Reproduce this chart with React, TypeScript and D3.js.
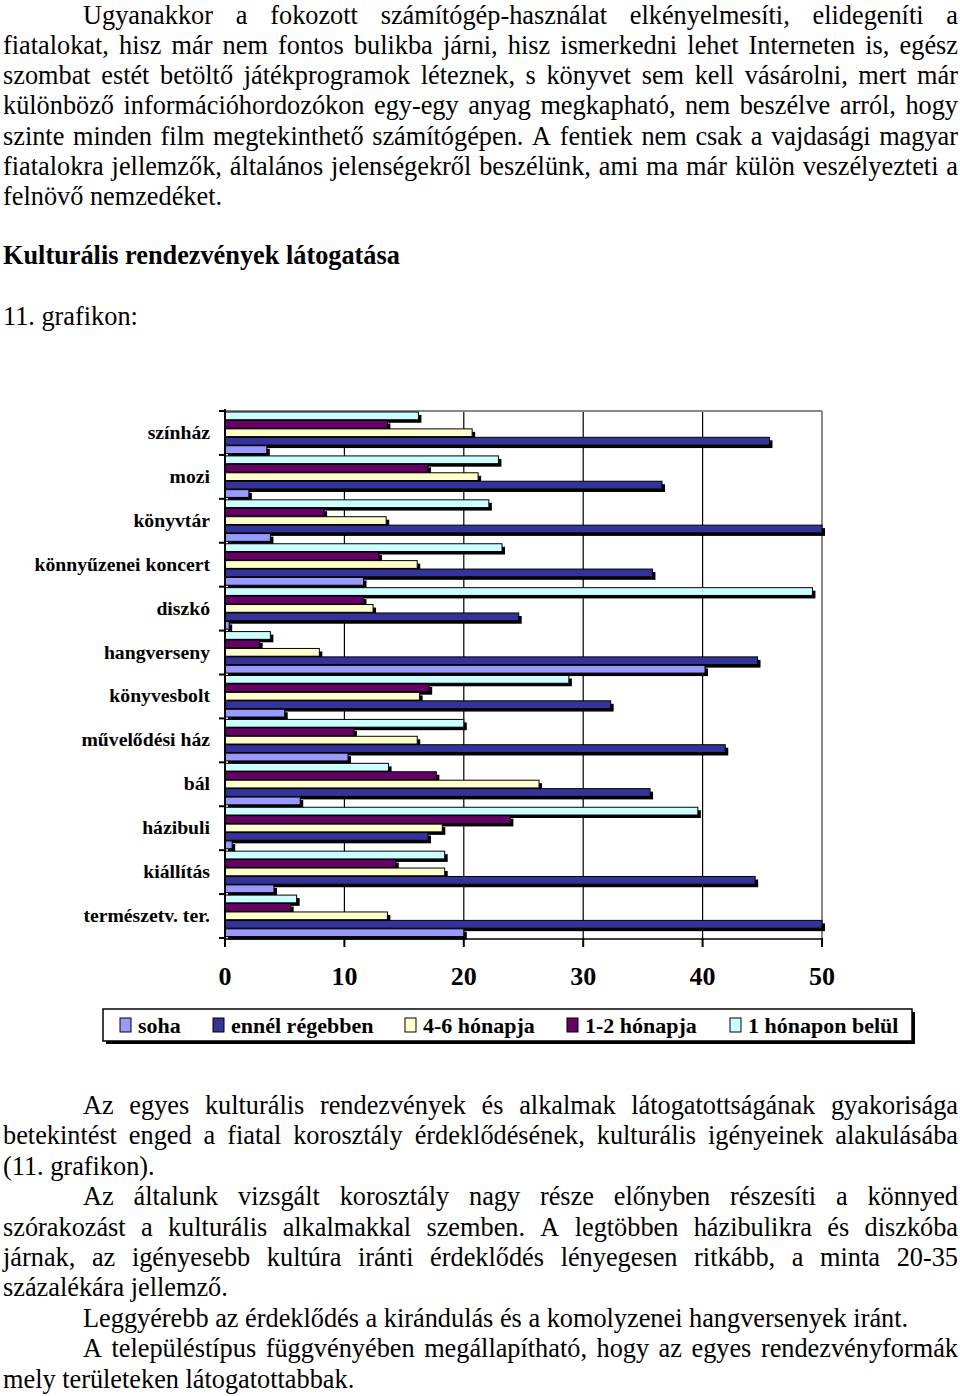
import React, { useEffect, useRef } from "react";
import * as d3 from "d3";

// ---- data ----
const categories = [
  "színház",
  "mozi",
  "könyvtár",
  "könnyűzenei koncert",
  "diszkó",
  "hangverseny",
  "könyvesbolt",
  "művelődési ház",
  "bál",
  "házibuli",
  "kiállítás",
  "természetv. ter.",
];
const seriesNames = ["soha", "ennél régebben", "4-6 hónapja", "1-2 hónapja", "1 hónapon belül"];
const soha = [3.5, 2.0, 3.8, 11.6, 0.35, 40.2, 5.0, 10.3, 6.3, 0.6, 4.1, 20.0];
const ennelRegebben = [45.6, 36.6, 50, 35.8, 24.6, 44.6, 32.3, 41.9, 35.6, 17.0, 44.4, 50];
const honap46 = [20.7, 21.2, 13.5, 16.1, 12.4, 7.9, 16.3, 16.1, 26.3, 18.2, 18.4, 13.6];
const honap12 = [13.6, 17.0, 8.3, 12.9, 11.6, 2.9, 17.1, 10.8, 17.7, 23.9, 14.3, 5.5];
const honaponBelul = [16.2, 22.9, 22.1, 23.2, 49.2, 3.8, 28.8, 20.0, 13.7, 39.6, 18.4, 6.0];
const seriesValues = [soha, ennelRegebben, honap46, honap12, honaponBelul];
const seriesColors = ["#9999FF", "#333399", "#FFFFCC", "#660066", "#CCFFFF"];
const xTicks = [0, 10, 20, 30, 40, 50];

// text content: [text, justify, indent]
const topLines: [string, boolean, boolean][] = [
  ["Ugyanakkor a fokozott számítógép-használat elkényelmesíti, elidegeníti a", true, true],
  ["fiatalokat, hisz már nem fontos bulikba járni, hisz ismerkedni lehet Interneten is, egész", true, false],
  ["szombat estét betöltő játékprogramok léteznek, s könyvet sem kell vásárolni, mert már", true, false],
  ["különböző információhordozókon egy-egy anyag megkapható, nem beszélve arról, hogy", true, false],
  ["szinte minden film megtekinthető számítógépen. A fentiek nem csak a vajdasági magyar", true, false],
  ["fiatalokra jellemzők, általános jelenségekről beszélünk, ami ma már külön veszélyezteti a", true, false],
  ["felnövő nemzedéket.", false, false],
];
const bottomLines: [string, boolean, boolean][] = [
  ["Az egyes kulturális rendezvények és alkalmak látogatottságának gyakorisága", true, true],
  ["betekintést enged a fiatal korosztály érdeklődésének, kulturális igényeinek alakulásába", true, false],
  ["(11. grafikon).", false, false],
  ["Az általunk vizsgált korosztály nagy része előnyben részesíti a könnyed", true, true],
  ["szórakozást a kulturális alkalmakkal szemben. A legtöbben házibulikra és diszkóba", true, false],
  ["járnak, az igényesebb kultúra iránti érdeklődés lényegesen ritkább, a minta 20-35", true, false],
  ["százalékára jellemző.", false, false],
  ["Leggyérebb az érdeklődés a kirándulás és a komolyzenei hangversenyek iránt.", false, true],
  ["A településtípus függvényében megállapítható, hogy az egyes rendezvényformák", true, true],
  ["mely területeken látogatottabbak.", false, false],
];
const titleText = "Kulturális rendezvények látogatása";
const captionText = "11. grafikon:";

const SERIF = "'Liberation Serif', 'Times New Roman', Times, serif";

export default function App() {
  const ref = useRef<SVGSVGElement | null>(null);

  useEffect(() => {
    const svg = d3.select(ref.current!);
    svg.selectAll("*").remove();

    const bodySize = 26.3;
    const leftX = 3;
    const rightX = 958;
    const indentX = 83;

    const drawLine = (g: any, text: string, justify: boolean, indent: boolean, y: number) => {
      const x0 = indent ? indentX : leftX;
      if (!justify) {
        g.append("text")
          .attr("x", x0)
          .attr("y", y)
          .attr("font-family", SERIF)
          .attr("font-size", bodySize)
          .attr("fill", "#000")
          .text(text);
        return;
      }
      const words = text.split(" ");
      const nodes = words.map((w) =>
        g.append("text")
          .attr("y", y)
          .attr("font-family", SERIF)
          .attr("font-size", bodySize)
          .attr("fill", "#000")
          .text(w)
      );
      const widths = nodes.map((n: any) => (n.node() as SVGTextElement).getComputedTextLength());
      const total = d3.sum(widths);
      const gap = (rightX - x0 - total) / (words.length - 1);
      let x = x0;
      nodes.forEach((n: any, i: number) => {
        n.attr("x", x);
        x += widths[i] + gap;
      });
    };

    const textG = svg.append("g");
    topLines.forEach((l, i) => drawLine(textG, l[0], l[1], l[2], 23.5 + i * 30.3));
    textG.append("text")
      .attr("x", leftX)
      .attr("y", 264)
      .attr("font-family", SERIF)
      .attr("font-size", bodySize)
      .attr("font-weight", "bold")
      .text(titleText);
    textG.append("text")
      .attr("x", leftX)
      .attr("y", 325)
      .attr("font-family", SERIF)
      .attr("font-size", bodySize)
      .text(captionText);
    bottomLines.forEach((l, i) => drawLine(textG, l[0], l[1], l[2], 1114 + i * 30.4));

    // ---- chart ----
    const x = d3.scaleLinear().domain([0, 50]).range([225, 822]);
    const y = d3.scaleBand<string>().domain(categories).range([411, 938]).paddingInner(0);
    const order = [4, 3, 2, 1, 0]; // top to bottom within group
    const inner = d3
      .scaleBand<number>()
      .domain(order)
      .range([1, 42.5])
      .paddingInner(0.08);

    const chart = svg.append("g");
    // gridlines
    chart.selectAll(".grid")
      .data(xTicks.filter((t) => t > 0 && t < 50))
      .enter()
      .append("line")
      .attr("x1", (d) => x(d))
      .attr("x2", (d) => x(d))
      .attr("y1", y.range()[0])
      .attr("y2", y.range()[1])
      .attr("stroke", "#000")
      .attr("stroke-width", 1.2);
    // top + right border
    chart.append("line")
      .attr("x1", x(0)).attr("x2", x(50))
      .attr("y1", 411).attr("y2", 411)
      .attr("stroke", "#888").attr("stroke-width", 2);
    chart.append("line")
      .attr("x1", x(50)).attr("x2", x(50))
      .attr("y1", 411).attr("y2", 938)
      .attr("stroke", "#888").attr("stroke-width", 2);

    const bh = inner.bandwidth();
    categories.forEach((c, ci) => {
      order.forEach((si) => {
        const v = seriesValues[si][ci];
        const by = (y(c) as number) + (inner(si) as number);
        const w = x(v) - x(0);
        chart.append("rect")
          .attr("x", x(0) + 3)
          .attr("y", by + 3)
          .attr("width", w)
          .attr("height", bh)
          .attr("fill", "#000");
        chart.append("rect")
          .attr("x", x(0))
          .attr("y", by)
          .attr("width", w)
          .attr("height", bh)
          .attr("fill", seriesColors[si])
          .attr("stroke", "#000")
          .attr("stroke-width", 1);
      });
    });

    // left axis
    chart.append("line")
      .attr("x1", x(0)).attr("x2", x(0))
      .attr("y1", 409).attr("y2", 940)
      .attr("stroke", "#000").attr("stroke-width", 2);
    const bounds = categories.map((c) => y(c) as number).concat([y.range()[1]]);
    chart.selectAll(".ytick")
      .data(bounds)
      .enter()
      .append("line")
      .attr("x1", x(0) - 6).attr("x2", x(0))
      .attr("y1", (d) => d).attr("y2", (d) => d)
      .attr("stroke", "#000").attr("stroke-width", 2);
    // bottom axis
    chart.append("line")
      .attr("x1", x(0)).attr("x2", x(50))
      .attr("y1", 939).attr("y2", 939)
      .attr("stroke", "#000").attr("stroke-width", 1.5);
    chart.selectAll(".xtick")
      .data(xTicks)
      .enter()
      .append("line")
      .attr("x1", (d) => x(d)).attr("x2", (d) => x(d))
      .attr("y1", 938).attr("y2", 947)
      .attr("stroke", "#000").attr("stroke-width", 2);
    chart.selectAll(".xlab")
      .data(xTicks)
      .enter()
      .append("text")
      .attr("x", (d) => x(d))
      .attr("y", 985)
      .attr("text-anchor", "middle")
      .attr("font-family", SERIF)
      .attr("font-weight", "bold")
      .attr("font-size", 26)
      .text((d) => String(d));
    chart.selectAll(".ylab")
      .data(categories)
      .enter()
      .append("text")
      .attr("x", 210)
      .attr("y", (d) => (y(d) as number) + y.bandwidth() / 2 + 6)
      .attr("text-anchor", "end")
      .attr("font-family", SERIF)
      .attr("font-weight", "bold")
      .attr("font-size", 19.7)
      .text((d) => d);

    // legend
    const lg = svg.append("g");
    lg.append("rect").attr("x", 106).attr("y", 1012).attr("width", 809).attr("height", 32).attr("fill", "#000");
    lg.append("rect").attr("x", 103).attr("y", 1009).attr("width", 809).attr("height", 32)
      .attr("fill", "#fff").attr("stroke", "#000").attr("stroke-width", 1.5);
    const legendX = [120, 213, 405, 567, 730];
    seriesNames.forEach((n, i) => {
      lg.append("rect")
        .attr("x", legendX[i]).attr("y", 1018).attr("width", 11).attr("height", 14)
        .attr("fill", seriesColors[i]).attr("stroke", "#000").attr("stroke-width", 1);
      lg.append("text")
        .attr("x", legendX[i] + 18).attr("y", 1033)
        .attr("font-family", SERIF).attr("font-weight", "bold").attr("font-size", 22)
        .text(n);
    });
  }, []);

  return (
    <svg
      ref={ref}
      width={960}
      height={1396}
      style={{ position: "absolute", left: 0, top: 0, background: "#fff" }}
    />
  );
}
